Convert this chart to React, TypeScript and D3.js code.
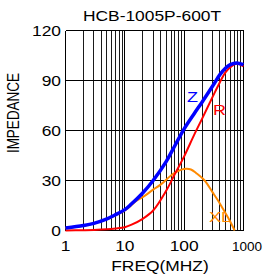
import React from 'react';
import * as d3 from 'd3';

const freqs = [1, 2, 3, 5, 7, 10, 13, 20, 30, 50, 70, 100, 150, 200, 300, 400, 500, 600, 760, 1000];
const zValues = [1.5, 3, 4.3, 7, 9.5, 12.5, 16, 22.5, 30, 41.5, 51, 61, 70.5, 77, 86.5, 93.5, 97.5, 99.5, 100.5, 99.5];
const rValues = [0, 0.15, 0.3, 0.7, 1.2, 2, 3.5, 7, 12, 24, 34, 44.5, 58, 67, 80, 89, 95, 98, 100, 98.5];
const xlFreqs = [1, 2, 3, 5, 7, 10, 16, 20, 30, 40, 60, 73, 90, 108, 130, 160, 221, 300, 372, 450, 585, 710];
const xlValues = [1.5, 2.9, 4.2, 6.8, 9.2, 12, 18, 20, 24.5, 27.5, 33, 35, 36.5, 37, 36.6, 34.4, 30, 23, 18, 13, 6, 0];
const xTicks = [1, 10, 100, 1000];
const yTicks = [0, 30, 60, 90, 120];
const title = 'HCB-1005P-600T';

const SX = 1.2; // the picture is stretched sideways
const font = '"Liberation Sans", Arial, sans-serif';

const App = () => {
  const x = d3.scaleLog().domain([1, 1000]).range([65.5, 243.5]);
  const y = d3.scaleLinear().domain([0, 120]).range([230.5, 30.5]);

  const line = d3
    .line<[number, number]>()
    .x((d) => x(d[0]))
    .y((d) => y(d[1]))
    .curve(d3.curveCatmullRom.alpha(0.5));

  const minor: number[] = [];
  [1, 10, 100].forEach((dec) => {
    for (let k = 2; k <= 9; k++) minor.push(k * dec);
  });

  const txt = (s: string, tx: number, ty: number, anchor: string, color = '#000', size = 14.5) => (
    <text
      key={s + tx + ty}
      transform={`translate(${tx},${ty}) scale(${SX},1)`}
      textAnchor={anchor}
      fill={color}
      fontSize={size}
      fontFamily={font}
    >
      {s}
    </text>
  );

  return (
    <svg width={265} height={275} style={{ position: 'absolute', left: 0, top: 0 }}>
      <rect width={265} height={275} fill="#fff" />
      <g shapeRendering="crispEdges">
        {minor.map((f) => (
          <line key={f} x1={x(f)} x2={x(f)} y1={y(0)} y2={y(120)} stroke="#1a1a1a" strokeWidth={1} />
        ))}
        {xTicks.map((f) => (
          <line key={'M' + f} x1={x(f)} x2={x(f)} y1={y(0)} y2={y(120)} stroke="#000" strokeWidth={1.3} />
        ))}
        {yTicks.map((v) => (
          <line key={'h' + v} x1={x(1)} x2={x(1000)} y1={y(v)} y2={y(v)} stroke="#000" strokeWidth={1.3} />
        ))}
      </g>
      <path
        d={line(xlFreqs.map((f, i) => [f, xlValues[i]]))!}
        fill="none"
        stroke="#ff8a00"
        strokeWidth={2}
      />
      <path
        d={line(freqs.map((f, i) => [f, rValues[i]]))!}
        fill="none"
        stroke="#ff0000"
        strokeWidth={2}
      />
      <path
        d={line(freqs.map((f, i) => [f, zValues[i]]))!}
        fill="none"
        stroke="#0000ff"
        strokeWidth={3.5}
      />
      {txt(title, 152, 21, 'middle')}
      {yTicks.map((v) => txt(String(v), 61, y(v) + 5, 'end'))}
      {xTicks.map((f) =>
        f === 1000 ? (
          <text key="t1000" x={262} y={251} textAnchor="end" fontSize={13.5} fontFamily={font}>
            1000
          </text>
        ) : (
          txt(String(f), x(f), 251, 'middle')
        )
      )}
      {txt('FREQ(MHZ)', 160, 271, 'middle')}
      <text
        transform={`translate(19,113) scale(${SX},1) rotate(-90)`}
        textAnchor="middle"
        fontSize={13.5}
        fontFamily={font}
      >
        IMPEDANCE
      </text>
      {txt('Z', 187, 102, 'start', '#0000ff', 15)}
      {txt('R', 213, 115, 'start', '#ff0000', 15)}
      {txt('XL', 209, 222, 'start', '#ff8a00', 15)}
    </svg>
  );
};

export default App;
